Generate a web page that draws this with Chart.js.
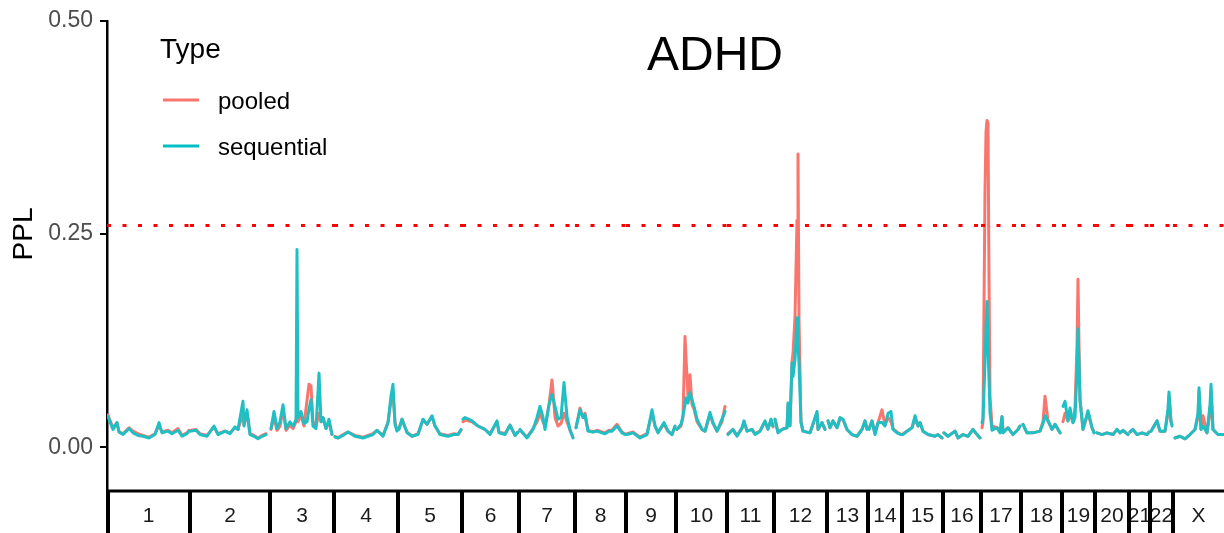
<!DOCTYPE html>
<html>
<head>
<meta charset="utf-8">
<title>ADHD PPL</title>
<script src="https://cdn.jsdelivr.net/npm/chart.js@4.4.1/dist/chart.umd.min.js"></script>
<style>
  html, body { margin: 0; padding: 0; background: #fff; }
  #wrap { width: 1224px; height: 533px; }
</style>
</head>
<body>
<div id="wrap"><canvas id="pplChart" width="1224" height="533"></canvas></div>
<script>
// chromosome layout (cumulative position, genome-wide)
const chrNames = ['1','2','3','4','5','6','7','8','9','10','11','12','13','14','15','16','17','18','19','20','21','22','X'];
const chrStart = [0,83,163,227,291,355,412,468,519,569,620,667,720,761,795,836,874,914,955,988,1022,1043,1066];
const genomeEnd = 1117;
const threshold = 0.26;
const yTicks = [0, 0.25, 0.5];

// positions per chromosome
const pos = [
  [1,6,10,12,16,22,26,31,36,42,48,52,55,61,65,71,75,80,82],
  [84,89,93,100,107,111,118,123,128,131,136,137,140,143,147,151,155,159],
  [164,167,170,173,176,179,183,186,189,190,191,194,197,200,202,204,206,209,212,214,216,219,222,225],
  [228,231,236,241,248,256,261,266,270,276,281,284,286,288,290],
  [292,295,300,305,311,316,320,325,328,333,341,347,351,354],
  [356,358,365,371,378,383,390,392,398,403,408,411],
  [413,420,426,430,433,436,438,442,445,448,451,454,457,460,463,466],
  [469,473,476,478,481,486,490,495,498,502,505,510,515,518],
  [520,526,533,540,545,548,551,557,561,565,568],
  [570,574,576,578,579,581,583,585,587,590,595,598,603,606,610,615,618],
  [621,626,630,635,637,640,645,648,653,658,661,664,666],
  [668,671,675,680,681,683,685,686,688,690,691,692,694,696,703,710,711,715,718],
  [721,723,726,730,733,736,740,745,750,755,758,760],
  [762,765,768,771,775,778,781,784,786,790,794],
  [796,800,805,808,811,813,816,821,828,831,835],
  [837,841,848,851,856,861,866,870,873],
  [875,876,878,879,880,881,882,883,885,890,893,895,896,901,906,911,913],
  [916,920,926,933,936,938,941,945,948,953],
  [956,958,961,963,966,968,970,971,972,973,976,981,985,987],
  [990,995,1000,1006,1010,1013,1016,1021],
  [1023,1026,1030,1035,1040,1042],
  [1044,1045,1050,1053,1058,1061,1062,1064,1065],
  [1068,1073,1078,1083,1088,1091,1092,1094,1096,1100,1103,1104,1106,1111,1116]
];

const pooled = [
  [.038,.023,.029,.018,.016,.023,.019,.016,.014,.012,.016,.026,.018,.020,.017,.022,.014,.017,.020],
  [.020,.021,.016,.014,.024,.016,.019,.017,.023,.021,.040,.026,.040,.016,.014,.011,.014,.016],
  [.021,.035,.020,.025,.045,.020,.026,.022,.030,.045,.030,.038,.025,.055,.074,.072,.030,.025,.040,.030,.035,.022,.030,.015],
  [.013,.011,.015,.018,.014,.012,.014,.016,.020,.014,.029,.055,.062,.030,.020],
  [.022,.033,.018,.013,.016,.032,.027,.036,.025,.016,.014,.016,.015,.020],
  [.030,.032,.030,.025,.021,.016,.030,.018,.016,.026,.014,.018],
  [.020,.012,.022,.030,.040,.030,.025,.050,.079,.035,.025,.028,.040,.030,.020,.012],
  [.023,.046,.035,.040,.020,.018,.020,.018,.017,.020,.020,.027,.018,.016],
  [.016,.018,.012,.016,.040,.025,.018,.027,.019,.015,.024],
  [.021,.025,.035,.130,.105,.060,.085,.050,.045,.030,.021,.019,.038,.028,.019,.030,.048],
  [.016,.021,.014,.022,.030,.019,.021,.016,.019,.030,.022,.032,.024],
  [.033,.018,.021,.023,.050,.026,.100,.110,.153,.266,.344,.150,.030,.019,.017,.040,.021,.029,.021],
  [.031,.023,.031,.023,.033,.033,.021,.015,.013,.021,.031,.022],
  [.022,.031,.016,.029,.044,.026,.035,.030,.022,.018,.015],
  [.016,.019,.023,.033,.025,.029,.019,.015,.013,.015,.011],
  [.017,.013,.019,.011,.015,.013,.021,.015,.011],
  [.023,.030,.300,.370,.383,.380,.200,.060,.025,.023,.018,.036,.018,.023,.015,.021,.025],
  [.027,.017,.017,.019,.030,.060,.031,.021,.027,.017],
  [.030,.040,.031,.040,.029,.046,.120,.197,.120,.056,.021,.040,.023,.018],
  [.017,.015,.017,.015,.021,.017,.020,.015],
  [.018,.021,.015,.017,.015,.018],
  [.019,.021,.031,.019,.019,.040,.060,.030,.027],
  [.011,.013,.010,.015,.021,.035,.065,.021,.037,.017,.040,.065,.021,.015,.015]
];

const sequential = [
  [.036,.021,.029,.018,.015,.022,.017,.014,.013,.011,.015,.029,.017,.019,.016,.020,.013,.016,.019],
  [.019,.020,.015,.013,.025,.015,.019,.016,.024,.021,.054,.025,.044,.015,.013,.010,.013,.015],
  [.022,.042,.022,.030,.050,.022,.030,.025,.032,.232,.035,.042,.028,.030,.045,.056,.025,.022,.087,.030,.035,.022,.033,.015],
  [.012,.011,.014,.018,.013,.011,.013,.015,.020,.013,.029,.060,.074,.027,.019],
  [.021,.033,.017,.013,.015,.033,.027,.037,.025,.015,.013,.015,.015,.021],
  [.033,.035,.031,.025,.021,.015,.031,.017,.015,.026,.014,.018],
  [.021,.011,.021,.035,.048,.035,.021,.050,.062,.048,.033,.035,.076,.036,.021,.011],
  [.023,.044,.035,.038,.019,.018,.019,.017,.016,.019,.019,.025,.017,.015],
  [.015,.017,.011,.015,.044,.025,.017,.029,.019,.015,.025],
  [.021,.027,.037,.050,.058,.052,.064,.056,.048,.033,.021,.019,.041,.029,.019,.033,.042],
  [.015,.021,.013,.023,.031,.019,.021,.015,.019,.031,.021,.033,.025],
  [.033,.017,.021,.023,.052,.025,.099,.083,.103,.152,.120,.099,.029,.019,.017,.042,.021,.029,.021],
  [.031,.023,.031,.023,.035,.033,.021,.015,.013,.021,.031,.021],
  [.021,.031,.015,.029,.029,.025,.040,.042,.021,.017,.015],
  [.015,.019,.023,.037,.025,.029,.019,.015,.013,.015,.011],
  [.017,.013,.019,.011,.015,.013,.021,.015,.011],
  [.029,.033,.099,.140,.171,.118,.080,.041,.020,.023,.017,.036,.017,.023,.015,.021,.025],
  [.027,.017,.017,.019,.028,.037,.031,.021,.027,.017],
  [.048,.054,.031,.046,.029,.035,.090,.139,.100,.056,.021,.043,.023,.017],
  [.017,.015,.017,.015,.021,.017,.020,.015],
  [.018,.021,.015,.017,.015,.018],
  [.019,.021,.031,.019,.019,.045,.065,.030,.025],
  [.011,.013,.010,.015,.021,.040,.070,.021,.025,.017,.050,.074,.021,.015,.015]
];

const FONT = "'Liberation Sans', Arial, Helvetica, sans-serif";
const chrEnd = i => (i < chrStart.length - 1 ? chrStart[i + 1] : genomeEnd);

// one line per chromosome, broken by a null point
function toPoints(values) {
  const pts = [];
  values.forEach((chr, i) => {
    chr.forEach((v, j) => pts.push({ x: pos[i][j], y: v }));
    pts.push({ x: chrEnd(i), y: null });
  });
  return pts;
}

const thresholdPts = [];
chrStart.forEach((s, i) => {
  thresholdPts.push({ x: s, y: threshold }, { x: chrEnd(i), y: threshold }, { x: chrEnd(i), y: null });
});

// strip, title, legend, axis title
const decorations = {
  id: 'decorations',
  afterDraw(chart) {
    const { ctx, chartArea } = chart;
    const xs = chart.scales.x;
    const H = chart.height;
    const stripTop = chartArea.bottom + 1;
    ctx.save();

    ctx.fillStyle = '#1a1a1a';
    ctx.font = `21px ${FONT}`;
    ctx.textAlign = 'center';
    ctx.textBaseline = 'middle';
    chrNames.forEach((name, i) => {
      const x0 = xs.getPixelForValue(chrStart[i]);
      const x1 = xs.getPixelForValue(chrEnd(i));
      ctx.fillText(name, (x0 + x1) / 2, stripTop + 25);
    });

    ctx.strokeStyle = '#000';
    ctx.lineWidth = 4;
    chrStart.forEach(s => {
      const x = xs.getPixelForValue(s) + (s === 0 ? 1 : 0);
      ctx.beginPath();
      ctx.moveTo(x, stripTop);
      ctx.lineTo(x, H);
      ctx.stroke();
    });
    ctx.lineWidth = 3;
    ctx.beginPath();
    ctx.moveTo(chartArea.left - 1, stripTop);
    ctx.lineTo(chartArea.right, stripTop);
    ctx.stroke();

    // title
    ctx.fillStyle = '#000';
    ctx.font = `48px ${FONT}`;
    ctx.textAlign = 'center';
    ctx.textBaseline = 'alphabetic';
    ctx.fillText('ADHD', 715, 70);

    // legend
    ctx.textAlign = 'left';
    ctx.font = `28px ${FONT}`;
    ctx.fillText('Type', 160, 58);
    const items = [['pooled', '#F8766D', 100], ['sequential', '#00BFC4', 146]];
    ctx.font = `24px ${FONT}`;
    items.forEach(([label, color, yy]) => {
      ctx.strokeStyle = color;
      ctx.lineWidth = 3;
      ctx.beginPath();
      ctx.moveTo(163, yy);
      ctx.lineTo(199, yy);
      ctx.stroke();
      ctx.fillStyle = '#000';
      ctx.fillText(label, 218, yy + 9);
    });

    // y axis title
    ctx.save();
    ctx.translate(24, 234);
    ctx.rotate(-Math.PI / 2);
    ctx.textAlign = 'center';
    ctx.textBaseline = 'middle';
    ctx.font = `28px ${FONT}`;
    ctx.fillStyle = '#000';
    ctx.fillText('PPL', 0, 0);
    ctx.restore();

    ctx.restore();
  }
};

Chart.defaults.font.family = FONT;

new Chart(document.getElementById('pplChart').getContext('2d'), {
  type: 'line',
  data: {
    datasets: [
      {
        label: 'threshold',
        data: thresholdPts,
        borderColor: '#ff0000',
        borderWidth: 3,
        borderDash: [4, 11.5],
        borderCapStyle: 'butt',
        pointRadius: 0,
        spanGaps: false,
        order: 0
      },
      {
        label: 'sequential',
        data: toPoints(sequential),
        borderColor: '#1FBFC4',
        borderWidth: 3,
        borderJoinStyle: 'round',
        borderCapStyle: 'round',
        pointRadius: 0,
        spanGaps: false,
        order: 1
      },
      {
        label: 'pooled',
        data: toPoints(pooled),
        borderColor: '#F8766D',
        borderWidth: 3,
        borderJoinStyle: 'round',
        borderCapStyle: 'round',
        pointRadius: 0,
        spanGaps: false,
        order: 2
      }
    ]
  },
  options: {
    responsive: false,
    animation: false,
    tension: 0,
    layout: { padding: { top: 20, right: 0, bottom: 43, left: 0 } },
    scales: {
      x: { type: 'linear', min: 0, max: genomeEnd, display: false },
      y: {
        min: -0.05,
        max: 0.5,
        afterFit(scale) { scale.width = 107; },
        afterBuildTicks(scale) { scale.ticks = yTicks.map(v => ({ value: v })); },
        border: { display: true, color: '#000', width: 2.5 },
        grid: { display: true, drawOnChartArea: false, drawTicks: true, tickLength: 7, color: '#000', lineWidth: 2 },
        ticks: {
          color: '#4d4d4d',
          font: { size: 23 },
          padding: 7,
          callback: v => v.toFixed(2)
        }
      }
    },
    plugins: {
      legend: { display: false },
      tooltip: { enabled: false }
    }
  },
  plugins: [decorations]
});
</script>
</body>
</html>
